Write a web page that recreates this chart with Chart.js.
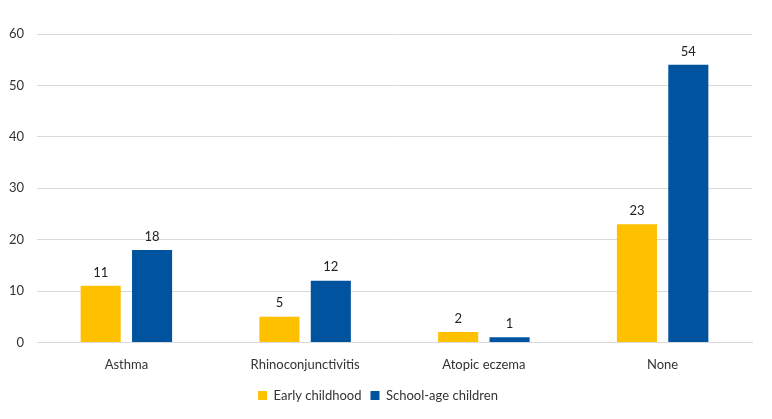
<!DOCTYPE html>
<html>
<head>
<meta charset="utf-8">
<script src="https://cdn.jsdelivr.net/npm/chart.js@4"></script>
<style>
  html, body { margin:0; padding:0; background:#fff; }
  #wrap { width:772px; height:419px; }
</style>
</head>
<body>
<div id="wrap"><canvas id="chart"></canvas></div>
<script>
const categories = ["Asthma", "Rhinoconjunctivitis", "Atopic eczema", "None"];
const earlyChildhood = [11, 5, 2, 23];
const schoolAge = [18, 12, 1, 54];
const seriesNames = ["Early childhood", "School-age children"];

Chart.defaults.font.family = "Lato, 'Open Sans', sans-serif";
Chart.defaults.font.size = 13;
Chart.defaults.color = "#333";

// draws the value above each bar
const valueLabels = {
  id: "valueLabels",
  afterDatasetsDraw(chart){
    const c = chart.ctx;
    c.save();
    c.font = "13px Lato, 'Open Sans', sans-serif";
    c.fillStyle = "#222";
    c.textAlign = "center";
    c.textBaseline = "bottom";
    chart.data.datasets.forEach((ds, i) => {
      chart.getDatasetMeta(i).data.forEach((bar, j) => {
        c.fillText(ds.data[j], bar.x, bar.y - 7);
      });
    });
    c.restore();
  }
};

const ctx = document.getElementById("chart").getContext("2d");

new Chart(ctx, {
  type: 'bar',
  data: {
    labels: categories,
    datasets: [
      {label: seriesNames[0], data: earlyChildhood, backgroundColor: '#FFC000'},
      {label: seriesNames[1], data: schoolAge, backgroundColor: '#00539F'}
    ]
  },
  options: {
    responsive: true,
    maintainAspectRatio: false,
    animation: false,
    categoryPercentage: 0.575,
    barPercentage: 0.78,
    layout: {padding: {left: 4, right: 20, top: 34, bottom: 7}},
    plugins: {
      legend: {
        position: 'bottom',
        labels: {boxWidth: 9, boxHeight: 9, padding: 9, color: '#333'}
      },
      tooltip: {enabled: false}
    },
    scales: {
      x: {
        grid: {display: false},
        border: {color: '#d9d9d9'},
        ticks: {padding: 7}
      },
      y: {
        min: 0, max: 60,
        ticks: {stepSize: 10, padding: 13},
        grid: {color: '#d9d9d9', drawTicks: false},
        border: {display: false},
        afterFit(scale){ scale.width = 33; }
      }
    }
  },
  plugins: [valueLabels]
});
</script>
</body>
</html>
